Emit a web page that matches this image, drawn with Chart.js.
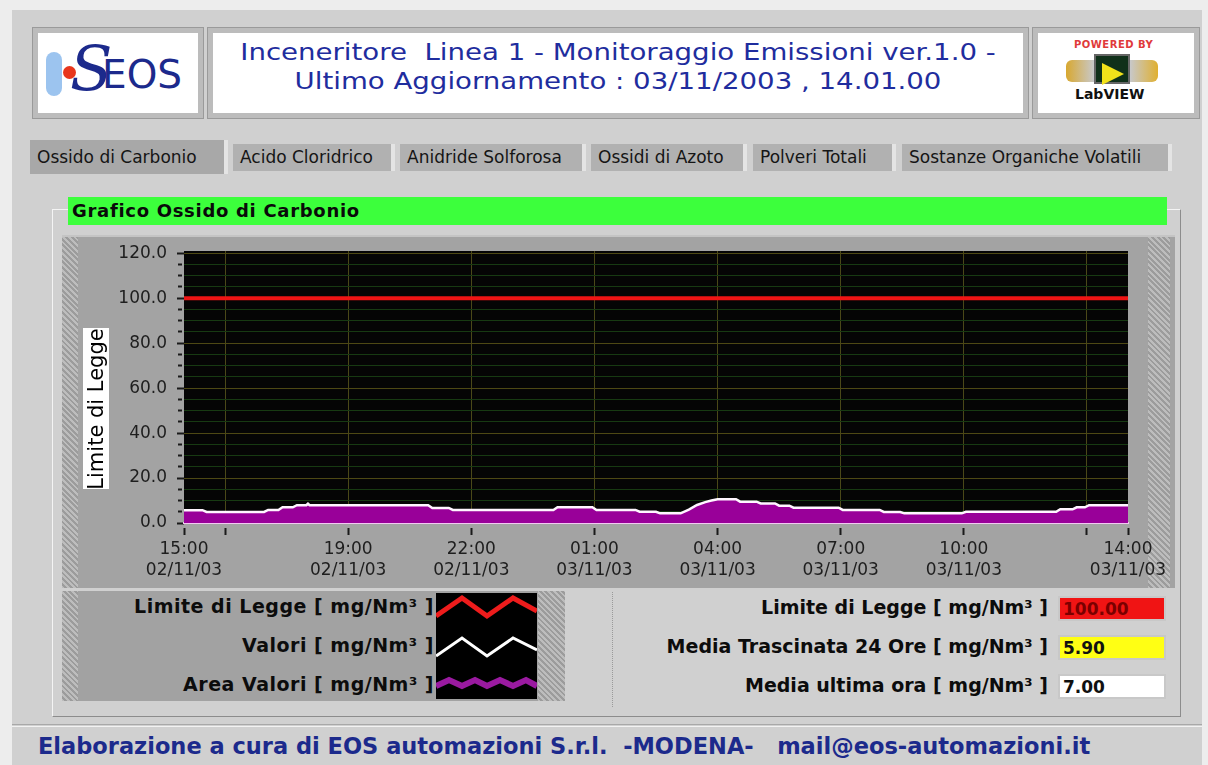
<!DOCTYPE html>
<html>
<head>
<meta charset="utf-8">
<script src="https://cdn.jsdelivr.net/npm/chart.js@4.4.1/dist/chart.umd.min.js"></script>
<style>
  body { margin: 0; width: 1208px; height: 765px; background: #ededed; position: relative; overflow: hidden; font-family: "DejaVu Sans", sans-serif; }
  .abs { position: absolute; box-sizing: border-box; }
  #main { left: 12px; top: 10px; width: 1190px; height: 755px; background: #d0d0d0; }
  .frame { background: #fff; border: 5px solid #bcbcbc; outline: 1px solid #9a9a9a; }
  .title { color: #1f2d9e; font-size: 23px; text-align: center; line-height: 29px; transform: scaleX(1.2); }
  .tab { font-size: 17px; color: #151515; background: #b1b1b1; line-height: 27px; padding-left: 7px; border-right: 4px solid #e4e4e4; }
  .tab.on { background: #a8a8a8; line-height: 34px; }
  #group { left: 52px; top: 209px; width: 1129px; height: 508px; border: 1px solid #f4f4f4; border-right-color: #8c8c8c; border-bottom-color: #8c8c8c; }
  #green { left: 68px; top: 197px; width: 1099px; height: 28px; background: #3cff3c; font-weight: bold; font-size: 18px; letter-spacing: 0.7px; line-height: 28px; padding-left: 4px; color: #0a0a0a; }
  #panel { left: 62px; top: 235px; width: 1113px; height: 353px; background: #a3a3a3; border-top: 2px solid #c4c4c4; }
  .strip { background: repeating-linear-gradient(45deg, #bdbdbd 0 2px, #9c9c9c 2px 4px); }
  #ytitle { left: 83px; top: 328px; width: 26px; height: 161px; background: #fff; }
  #ytitle span { position: absolute; left: 50%; top: 50%; transform: translate(-50%, -50%) rotate(-90deg); white-space: nowrap; font-size: 21px; color: #000; }
  #legend { left: 62px; top: 591px; width: 503px; height: 110px; background: #a2a2a2; }
  .lg { text-align: right; font-weight: bold; font-size: 19px; letter-spacing: 0.5px; color: #0c0c0c; white-space: nowrap; }
  .rl { left: 560px; width: 488px; text-align: right; font-weight: bold; font-size: 19px; color: #0c0c0c; white-space: nowrap; }
  .val { left: 1058px; width: 108px; height: 25px; font-weight: bold; font-size: 17px; line-height: 22px; padding-left: 3px; border: 2px solid #c8c8c8; }
  #footer { left: 38px; top: 733px; font-weight: bold; font-size: 22.5px; color: #1c2a8c; white-space: pre; }
</style>
</head>
<body>
<div id="main" class="abs"></div>

<!-- header -->
<div class="abs frame" style="left:33px;top:28px;width:170px;height:90px;"></div>
<div class="abs" style="left:46px;top:52px;width:16px;height:44px;border-radius:8px;background:#9cc4ef;"></div>
<div class="abs" style="left:63px;top:66px;width:13px;height:13px;border-radius:50%;background:#e8361c;"></div>
<div class="abs" style="left:70px;top:34px;font-size:62px;font-style:italic;color:#1c2a8c;line-height:70px;font-family:'DejaVu Serif',serif;">S</div>
<div class="abs" style="left:102px;top:53px;font-size:39px;color:#1c2a8c;line-height:44px;">EOS</div>

<div class="abs frame" style="left:208px;top:28px;width:820px;height:90px;"></div>
<div class="abs title" style="left:208px;top:38px;width:820px;">Inceneritore&nbsp; Linea 1 - Monitoraggio Emissioni ver.1.0 -<br>Ultimo Aggiornamento : 03/11/2003 , 14.01.00</div>

<div class="abs frame" style="left:1033px;top:28px;width:166px;height:90px;"></div>
<div class="abs" style="left:1074px;top:39px;font-size:10px;font-weight:bold;color:#e03a3a;letter-spacing:0.5px;">POWERED BY</div>
<div class="abs" style="left:1066px;top:60px;width:92px;height:22px;background:linear-gradient(90deg,#d8a830,#c8c8c8 30%,#c8c8c8 70%,#e0b030);border-radius:6px;"></div>
<div class="abs" style="left:1094px;top:54px;width:36px;height:30px;background:#10301a;border:2px solid #666;"></div>
<div class="abs" style="left:1102px;top:63px;width:0;height:0;border-left:22px solid #f2e21a;border-top:11px solid transparent;border-bottom:11px solid transparent;"></div>
<div class="abs" style="left:1075px;top:86px;font-size:14px;font-weight:bold;color:#111;">LabVIEW</div>

<!-- tabs -->
<div class="abs tab on" style="left:30px;top:140px;width:198px;height:34px;">Ossido di Carbonio</div>
<div class="abs tab" style="left:233px;top:144px;width:162px;height:27px;">Acido Cloridrico</div>
<div class="abs tab" style="left:400px;top:144px;width:186px;height:27px;">Anidride Solforosa</div>
<div class="abs tab" style="left:591px;top:144px;width:156px;height:27px;">Ossidi di Azoto</div>
<div class="abs tab" style="left:753px;top:144px;width:143px;height:27px;">Polveri Totali</div>
<div class="abs tab" style="left:902px;top:144px;width:270px;height:27px;">Sostanze Organiche Volatili</div>

<div id="group" class="abs"></div>
<div id="green" class="abs">Grafico Ossido di Carbonio</div>

<!-- chart panel -->
<div id="panel" class="abs"></div>
<div class="abs strip" style="left:62px;top:237px;width:16px;height:351px;"></div>
<div class="abs strip" style="left:1148px;top:237px;width:22px;height:351px;"></div>
<canvas id="chart" class="abs" width="1113" height="352" style="left:62px;top:235px;"></canvas>
<div id="ytitle" class="abs"><span>Limite di Legge</span></div>

<!-- legend -->
<div id="legend" class="abs">
  <div class="abs strip" style="left:0;top:0;width:16px;height:110px;"></div>
  <div class="abs strip" style="left:476px;top:0;width:27px;height:110px;"></div>
  <div class="abs lg" style="right:131px;top:4px;"><span id="lg0"></span></div>
  <div class="abs lg" style="right:131px;top:43px;"><span id="lg1"></span></div>
  <div class="abs lg" style="right:131px;top:82px;"><span id="lg2"></span></div>
  <svg class="abs" style="left:374px;top:2px;" width="101" height="106">
    <rect x="0" y="0" width="101" height="106" fill="#000"/>
    <polyline points="0,23 26,5 51,23 77,5 101,18" fill="none" stroke="#ee1c1c" stroke-width="5"/>
    <polyline points="0,63 26,45 51,63 77,45 101,57" fill="none" stroke="#ffffff" stroke-width="3"/>
    <polyline points="0,93 13,87 26,93 39,87 51,93 64,87 77,93 90,87 101,93" fill="none" stroke="#9a1aa0" stroke-width="6"/>
  </svg>
</div>

<!-- right indicators -->
<div class="abs" style="left:612px;top:592px;width:0;height:115px;border-left:1px dotted #9a9a9a;"></div>
<div class="abs rl" style="top:596px;"><span id="rl0"></span></div>
<div class="abs rl" style="top:635px;"><span id="rl1"></span></div>
<div class="abs rl" style="top:674px;"><span id="rl2"></span></div>
<div class="abs val" id="v0" style="top:596px;background:#f01414;color:#7a0000;"></div>
<div class="abs val" id="v1" style="top:635px;background:#ffff14;color:#111;"></div>
<div class="abs val" id="v2" style="top:674px;background:#fff;color:#111;"></div>

<div class="abs" style="left:12px;top:724px;width:1190px;height:3px;border-top:1px solid #a8a8a8;border-bottom:1px solid #f2f2f2;"></div>
<div id="footer" class="abs">Elaborazione a cura di EOS automazioni S.r.l.  -MODENA-   mail@eos-automazioni.it</div>

<script>
// hours after 15:00 of 02/11/03
const hours = [0, 0.45, 0.55, 1.95, 2.05, 2.3, 2.4, 2.65, 2.75, 2.98, 3.02, 3.06, 5.95, 6.05, 6.45, 6.55, 9.0, 9.1, 9.95, 10.05,
    11.0, 11.1, 11.5, 11.6, 12.1, 12.3, 12.5, 12.7, 12.85, 13.0, 13.45, 13.55, 13.95, 14.05, 14.4, 14.5, 14.75, 14.85,
    15.95, 16.05, 16.95, 17.05, 17.45, 17.55, 18.95, 19.05, 21.25, 21.35, 21.65, 21.75, 21.95, 22.05, 23];
const values = [5.7, 5.7, 4.9, 4.9, 5.8, 5.8, 7.0, 7.0, 7.9, 7.9, 8.6, 7.9, 7.9, 6.7, 6.7, 5.8, 5.8, 7.0, 7.0, 5.8,
    5.8, 5.0, 5.0, 4.3, 4.3, 6.0, 8.0, 9.3, 10.0, 10.6, 10.6, 9.5, 9.5, 8.7, 8.7, 7.7, 7.7, 6.8,
    6.8, 5.8, 5.8, 4.9, 4.9, 4.3, 4.3, 5.0, 5.0, 6.1, 6.1, 7.0, 7.0, 7.9, 7.9];
const limitValue = 100;
const xRange = [0, 23];

const xTickHours = [0, 1, 4, 7, 10, 13, 16, 19, 22, 23];
const xTickLabels = [['15:00', '02/11/03'], '', ['19:00', '02/11/03'], ['22:00', '02/11/03'], ['01:00', '03/11/03'],
    ['04:00', '03/11/03'], ['07:00', '03/11/03'], ['10:00', '03/11/03'], '', ['14:00', '03/11/03']];
const yTicks = [0, 5, 10, 15, 20, 25, 30, 35, 40, 45, 50, 55, 60, 65, 70, 75, 80, 85, 90, 95, 100, 105, 110, 115, 120];

const legendLabels = ['Limite di Legge [ mg/Nm³ ]', 'Valori  [ mg/Nm³ ]', 'Area Valori [ mg/Nm³ ]'];
const indicatorLabels = ['Limite di Legge [ mg/Nm³ ]', 'Media Trascinata 24 Ore [ mg/Nm³ ]', 'Media ultima ora [ mg/Nm³ ]'];
const indicatorValues = [100.00, 5.90, 7.00];

legendLabels.forEach((t, i) => document.getElementById('lg' + i).textContent = t);
indicatorLabels.forEach((t, i) => document.getElementById('rl' + i).textContent = t);
indicatorValues.forEach((v, i) => document.getElementById('v' + i).textContent = v.toFixed(2));

const series = hours.map((h, i) => ({ x: h, y: values[i] }));

const plotBg = {
    id: 'plotBg',
    beforeDraw(chart) {
        const { ctx, chartArea: a } = chart;
        ctx.save();
        ctx.fillStyle = '#050505';
        ctx.fillRect(a.left, a.top, a.right - a.left, a.bottom - a.top);
        ctx.restore();
    }
};

new Chart(document.getElementById('chart'), {
    type: 'line',
    data: {
        datasets: [
            {
                label: legendLabels[0],
                data: xRange.map(x => ({ x, y: limitValue })),
                borderColor: '#ee1414',
                borderWidth: 4,
                pointRadius: 0,
                order: 0
            },
            {
                label: legendLabels[1],
                data: series,
                borderColor: '#fff6ff',
                borderWidth: 2.5,
                pointRadius: 0,
                tension: 0,
                order: 1
            },
            {
                label: legendLabels[2],
                data: series,
                borderWidth: 0,
                pointRadius: 0,
                backgroundColor: '#990099',
                fill: 'origin',
                order: 2
            }
        ]
    },
    options: {
        responsive: false,
        animation: false,
        layout: { padding: { top: 16, right: 47, left: 0, bottom: 0 } },
        plugins: { legend: { display: false }, tooltip: { enabled: false } },
        scales: {
            x: {
                type: 'linear',
                min: xRange[0],
                max: xRange[1],
                afterBuildTicks: s => { s.ticks = xTickHours.map(v => ({ value: v })); },
                afterFit: s => { s.height = 64; },
                border: { display: true, color: '#f2c8f2', width: 2 },
                grid: {
                    color: c => (c.tick && (c.tick.value === xRange[0] || c.tick.value === xRange[1])) ? 'rgba(0,0,0,0)' : '#4a4818',
                    lineWidth: 1,
                    tickLength: 12,
                    tickColor: '#1a1a1a',
                    tickWidth: 2,
                    tickBorderDash: [0, 4, 8, 100]
                },
                ticks: {
                    autoSkip: false,
                    maxRotation: 0,
                    padding: 4,
                    color: '#1e1e1e',
                    font: { family: 'DejaVu Sans', size: 17, lineHeight: 1.25 },
                    callback: (v, i) => xTickLabels[i]
                }
            },
            y: {
                min: 0,
                max: 121,
                afterBuildTicks: s => { s.ticks = yTicks.map(v => ({ value: v })); },
                afterFit: s => { s.width = 122; },
                border: { display: false },
                grid: {
                    color: c => (c.tick && c.tick.value % 20 === 0) ? '#4d4814' : '#173a12',
                    lineWidth: 1,
                    tickLength: 12,
                    tickColor: '#1a1a1a',
                    tickWidth: 2,
                    tickBorderDash: c => (c.tick && c.tick.value % 20 === 0) ? [0, 5, 7, 100] : [0, 6, 4, 100]
                },
                ticks: {
                    autoSkip: false,
                    padding: 5,
                    color: '#1e1e1e',
                    font: { family: 'DejaVu Sans', size: 17 },
                    callback: v => v % 20 === 0 ? v.toFixed(1) : ''
                }
            }
        }
    },
    plugins: [plotBg]
});
</script>
</body>
</html>
